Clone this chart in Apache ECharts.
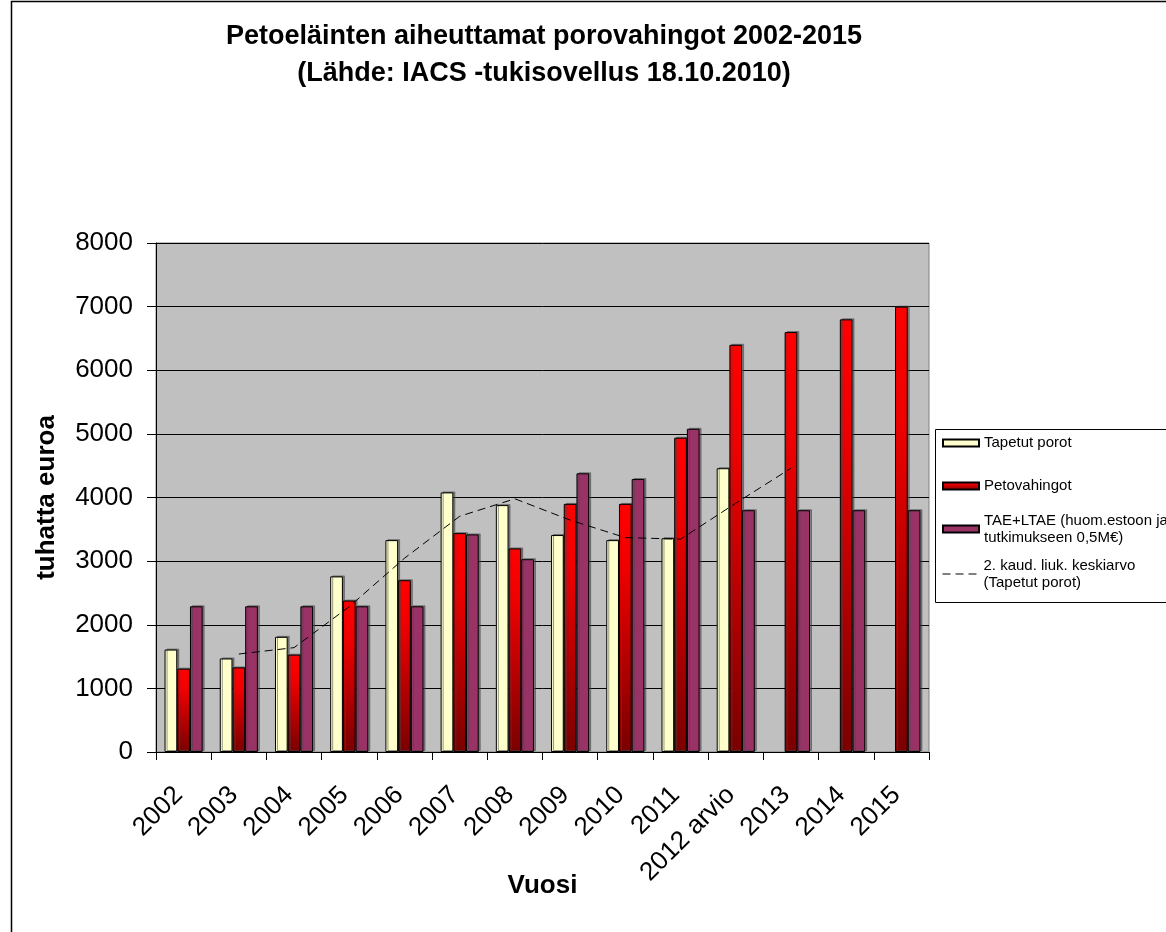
<!DOCTYPE html>
<html>
<head>
<meta charset="utf-8">
<script src="https://cdn.jsdelivr.net/npm/echarts@6/dist/echarts.min.js"></script>
<style>
html,body{margin:0;padding:0;background:#fff;}
#chart{width:1166px;height:932px;}
</style>
</head>
<body>
<div id="chart"></div>
<script>
const categories = ['2002','2003','2004','2005','2006','2007','2008','2009','2010','2011','2012 arvio','2013','2014','2015'];
const tapetutPorot = [1610, 1470, 1810, 2760, 3330, 4080, 3880, 3410, 3330, 3360, 4460, null, null, null];
const petovahingot = [1310, 1330, 1530, 2380, 2700, 3440, 3200, 3900, 3900, 4940, 6400, 6600, 6800, 7000];
const taeLtae = [2290, 2290, 2290, 2290, 2290, 3420, 3030, 4380, 4290, 5080, 3800, 3800, 3800, 3800];
const liukKeskiarvo = [null, 1540, 1640, 2285, 3045, 3705, 3980, 3645, 3370, 3345, 3910, 4460, null, null];

const seriesNames = [
  'Tapetut porot',
  'Petovahingot',
  'TAE+LTAE (huom.estoon ja tutkimukseen 0,5M€)',
  '2. kaud. liuk. keskiarvo (Tapetut porot)'
];

const FONT = '"Liberation Sans", Arial, sans-serif';
const chart = echarts.init(document.getElementById('chart'));

const shadow = {shadowColor: 'rgba(70,70,70,0.55)', shadowBlur: 0, shadowOffsetX: 2, shadowOffsetY: -1};
const legendText = {fontFamily: FONT, fontSize: 15, color: '#000', lineHeight: 17};

function mkLegend(name, top, kind, fmt) {
  const lg = {
    data: [{name: name}],
    orient: 'vertical',
    left: 942,
    top: top,
    padding: 0,
    itemWidth: 36,
    itemHeight: 7,
    selectedMode: false,
    textStyle: Object.assign({}, legendText, fmt ? {padding: [16, 0, 0, 0]} : {})
  };
  if (fmt) lg.formatter = fmt;
  if (kind === 'line') {
    lg.itemStyle = {color: 'rgba(0,0,0,0)', borderWidth: 0, opacity: 0};
    lg.lineStyle = {color: '#000', width: 1, type: [8, 5], opacity: 1};
  } else {
    lg.data[0].icon = 'rect';
  }
  return lg;
}

const option = {
  backgroundColor: '#fff',
  animation: false,
  title: {
    text: 'Petoeläinten aiheuttamat porovahingot 2002-2015\n(Lähde: IACS -tukisovellus 18.10.2010)',
    left: 539,
    top: 13,
    textAlign: 'center',
    textStyle: {fontFamily: FONT, fontSize: 27, fontWeight: 'bold', color: '#000', lineHeight: 37}
  },
  graphic: [
    {type: 'rect', silent: true, z: 0, shape: {x: 11.5, y: 1.5, width: 1300, height: 1100}, style: {fill: 'none', stroke: '#000', lineWidth: 1.5}},
    {type: 'rect', silent: true, z: 1, shape: {x: 935.5, y: 429.5, width: 300, height: 173}, style: {fill: '#fff', stroke: '#000', lineWidth: 1}}
  ],
  legend: [
    mkLegend(seriesNames[0], 434.5, 'bar'),
    mkLegend(seriesNames[1], 477.5, 'bar'),
    mkLegend(seriesNames[2], 504, 'bar', function(){ return 'TAE+LTAE (huom.estoon ja\ntutkimukseen 0,5M€)'; }),
    mkLegend(seriesNames[3], 549, 'line', function(){ return '2. kaud. liuk. keskiarvo\n(Tapetut porot)'; })
  ],
  grid: {
    left: 156, right: 237, top: 243, bottom: 180,
    show: true, backgroundColor: '#C0C0C0', borderColor: '#808080', borderWidth: 1
  },
  xAxis: {
    type: 'category',
    data: categories,
    name: 'Vuosi',
    nameLocation: 'middle',
    nameGap: 121,
    nameMoveOverlap: false,
    nameTextStyle: {fontFamily: FONT, fontSize: 26, fontWeight: 'bold', color: '#000'},
    axisLine: {lineStyle: {color: '#000', width: 1}},
    axisTick: {show: true, length: 8, lineStyle: {color: '#000'}},
    axisLabel: {rotate: 45, interval: 0, margin: 34, padding: [0, 7, 0, 0], fontFamily: FONT, fontSize: 26, color: '#000'}
  },
  yAxis: {
    type: 'value',
    min: 0, max: 8000, interval: 1000,
    name: 'tuhatta euroa',
    nameLocation: 'middle',
    nameGap: 96,
    nameTextStyle: {fontFamily: FONT, fontSize: 26, fontWeight: 'bold', color: '#000'},
    axisLine: {show: true, lineStyle: {color: '#000', width: 1}},
    axisTick: {show: true, length: 9, lineStyle: {color: '#000'}},
    axisLabel: {margin: 23, fontFamily: FONT, fontSize: 26, color: '#000', formatter: function(v){ return String(v); }},
    splitLine: {show: true, lineStyle: {color: '#000', width: 1}}
  },
  series: [
    {
      name: seriesNames[0], type: 'bar', data: tapetutPorot,
      barGap: '0%', barCategoryGap: '31%',
      itemStyle: Object.assign({color: '#FFFFCC', borderColor: '#000', borderWidth: 1}, shadow)
    },
    {
      name: seriesNames[1], type: 'bar', data: petovahingot,
      barGap: '0%', barCategoryGap: '31%',
      itemStyle: Object.assign({
        color: new echarts.graphic.LinearGradient(0, 0, 0, 1, [
          {offset: 0, color: '#ff0000'},
          {offset: 0.25, color: '#f00000'},
          {offset: 1, color: '#7a0000'}
        ]),
        borderColor: '#000', borderWidth: 1
      }, shadow)
    },
    {
      name: seriesNames[2], type: 'bar', data: taeLtae,
      barGap: '0%', barCategoryGap: '31%',
      itemStyle: Object.assign({color: '#993366', borderColor: '#000', borderWidth: 1}, shadow)
    },
    {
      name: seriesNames[3], type: 'line', data: liukKeskiarvo,
      symbol: 'none', connectNulls: false, z: 5,
      lineStyle: {color: '#000', width: 1, type: [8, 5]},
      itemStyle: {color: '#000'}
    }
  ]
};
chart.setOption(option);
</script>
</body>
</html>
